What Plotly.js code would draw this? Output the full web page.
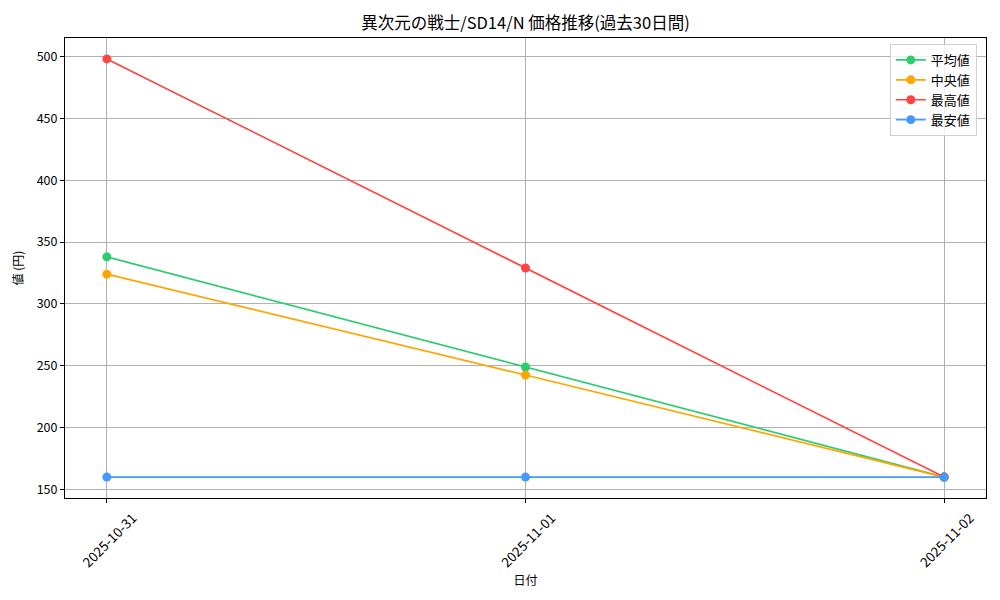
<!DOCTYPE html>
<html><head><meta charset="utf-8">
<script src="https://cdn.plot.ly/plotly-3.0.1.min.js"></script>
<style>html,body{margin:0;padding:0;background:#fff}#c{width:1000px;height:600px}</style>
</head><body><div id="c"></div>
<script>
const dates = ["2025-10-31", "2025-11-01", "2025-11-02"];
const avgVals = [338, 249, 160];
const medVals = [324, 242.5, 160];
const maxVals = [498, 329, 160];
const minVals = [160, 160, 160];
const seriesNames = ["平均値", "中央値", "最高値", "最安値"];
const colors = ["#2ecc71", "#ffa500", "#ff4444", "#4499ff"];
const allVals = [avgVals, medVals, maxVals, minVals];

const traces = allVals.map((v, i) => ({
  x: dates, y: v, name: seriesNames[i], type: "scatter", mode: "lines+markers",
  line: {color: colors[i], width: 1.7}, marker: {color: colors[i], size: 9}
}));

const F = "'Noto Sans CJK JP', 'DejaVu Sans', sans-serif";
const layout = {
  width: 1000, height: 600,
  margin: {l: 65, r: 14, t: 38, b: 102},
  paper_bgcolor: "#fff", plot_bgcolor: "#fff",
  font: {family: F, size: 12, color: "#000"},
  title: {text: "異次元の戦士/SD14/N 価格推移(過去30日間)", xref: "paper", x: 0.5, xanchor: "center", y: 0.962, yanchor: "middle", font: {size: 16.5, family: F}},
  xaxis: {
    type: "category", autorange: false, range: [-0.1, 2.1], tickangle: -45,
    showgrid: true, gridcolor: "#b0b0b0", gridwidth: 1,
    showline: true, linecolor: "#000", linewidth: 1, mirror: true,
    ticks: "outside", ticklen: 4, tickcolor: "#000",
    ticklabelshift: 26, ticklabelstandoff: 2,
    automargin: false,
    title: {text: "日付", font: {size: 12}, standoff: 4},
    tickfont: {size: 13.5}
  },
  yaxis: {
    autorange: false, range: [143.1, 514.9], tickvals: [150, 200, 250, 300, 350, 400, 450, 500],
    showgrid: true, gridcolor: "#b0b0b0", gridwidth: 1, zeroline: false,
    showline: true, linecolor: "#000", linewidth: 1, mirror: true,
    ticks: "outside", ticklen: 4, tickcolor: "#000",
    automargin: false,
    title: {text: "値 (円)", font: {size: 12}, standoff: 10},
    tickfont: {size: 12.5}
  },
  legend: {x: 0.99, y: 0.987, xanchor: "right", yanchor: "top", bgcolor: "rgba(255,255,255,0.8)", bordercolor: "#d0d0d0", borderwidth: 1, font: {size: 13}, tracegroupgap: 0},
  showlegend: true
};
Plotly.newPlot("c", traces, layout, {staticPlot: true});
</script></body></html>
